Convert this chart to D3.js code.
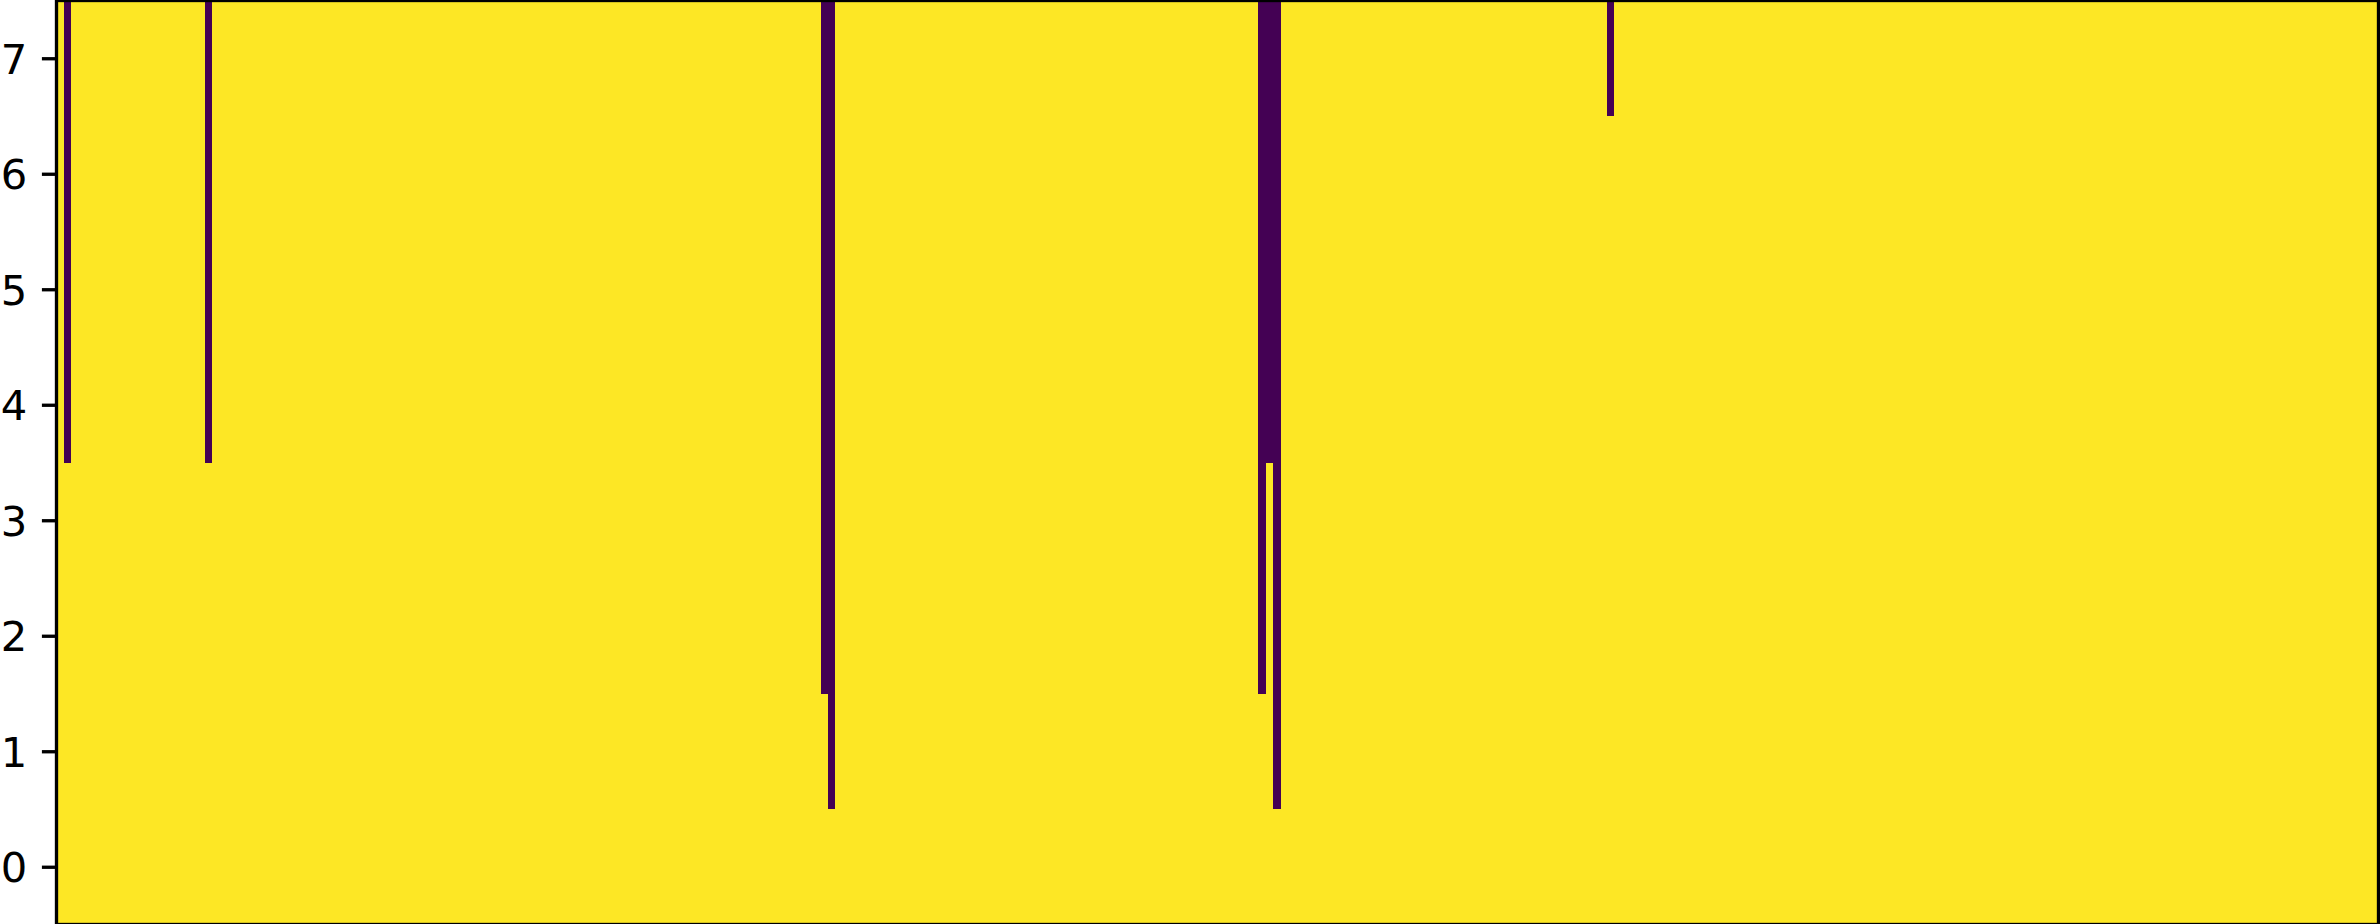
<!DOCTYPE html>
<html>
<head>
<meta charset="utf-8">
<script src="https://cdn.jsdelivr.net/npm/d3@7"></script>
<style>
  html, body { margin: 0; padding: 0; background: #ffffff; }
  svg { display: block; }
</style>
</head>
<body>
<svg id="chart" width="2380" height="924"></svg>
<script>
// ---- data ----
const nColumns = 313;
const rowLabels = [0, 1, 2, 3, 4, 5, 6, 7];
// columns that contain the dark (0) cells; each runs from the top row down to purpleFrom
const purpleColumns = [1, 20, 103, 104, 162, 163, 164, 209];
const purpleFrom    = [4, 4, 2, 1, 2, 4, 1, 7];
const colorLow = "#440154";
const colorHigh = "#fde725";

(function () {
  // build the matrix (value 1 = yellow, 0 = purple)
  const cells = [];
  for (let c = 0; c < nColumns; c++) {
    const idx = purpleColumns.indexOf(c);
    for (const r of rowLabels) {
      const v = (idx >= 0 && r >= purpleFrom[idx]) ? 0 : 1;
      cells.push({ col: c, row: r, value: v });
    }
  }

  // ---- layout ----
  const plotLeft = 56.5, plotRight = 2378.5, plotTop = 0.5, plotBottom = 924.5;
  const svg = d3.select("#chart");
  const x = d3.scaleLinear().domain([0, nColumns]).range([plotLeft, plotRight]);
  const y = d3.scaleLinear().domain([-0.5, 7.5]).range([plotBottom, plotTop]);
  const color = d3.scaleOrdinal().domain([0, 1]).range([colorLow, colorHigh]);

  svg.append("g")
    .attr("shape-rendering", "crispEdges")
    .selectAll("rect")
    .data(cells)
    .join("rect")
    .attr("x", d => x(d.col))
    .attr("width", d => x(d.col + 1) - x(d.col))
    .attr("y", d => y(d.row + 0.5))
    .attr("height", d => y(d.row - 0.5) - y(d.row + 0.5))
    .attr("fill", d => color(d.value));

  // spines
  svg.append("rect")
    .attr("x", plotLeft).attr("y", plotTop)
    .attr("width", plotRight - plotLeft).attr("height", plotBottom - plotTop)
    .attr("fill", "none")
    .attr("stroke", "#000")
    .attr("stroke-width", 3.33);

  // y axis
  const yAxis = d3.axisLeft(y).tickValues(rowLabels).tickFormat(d3.format("d"))
    .tickSize(14.6).tickPadding(14.6);
  const gy = svg.append("g").attr("transform", `translate(${plotLeft},0)`).call(yAxis);
  gy.select(".domain").remove();
  gy.selectAll(".tick line").attr("stroke", "#000").attr("stroke-width", 3.33);
  gy.selectAll(".tick text")
    .attr("fill", "#000")
    .style("font-family", "'DejaVu Sans', sans-serif")
    .style("font-size", "41.67px")
    .attr("dy", "0.36em");
})();
</script>
</body>
</html>
